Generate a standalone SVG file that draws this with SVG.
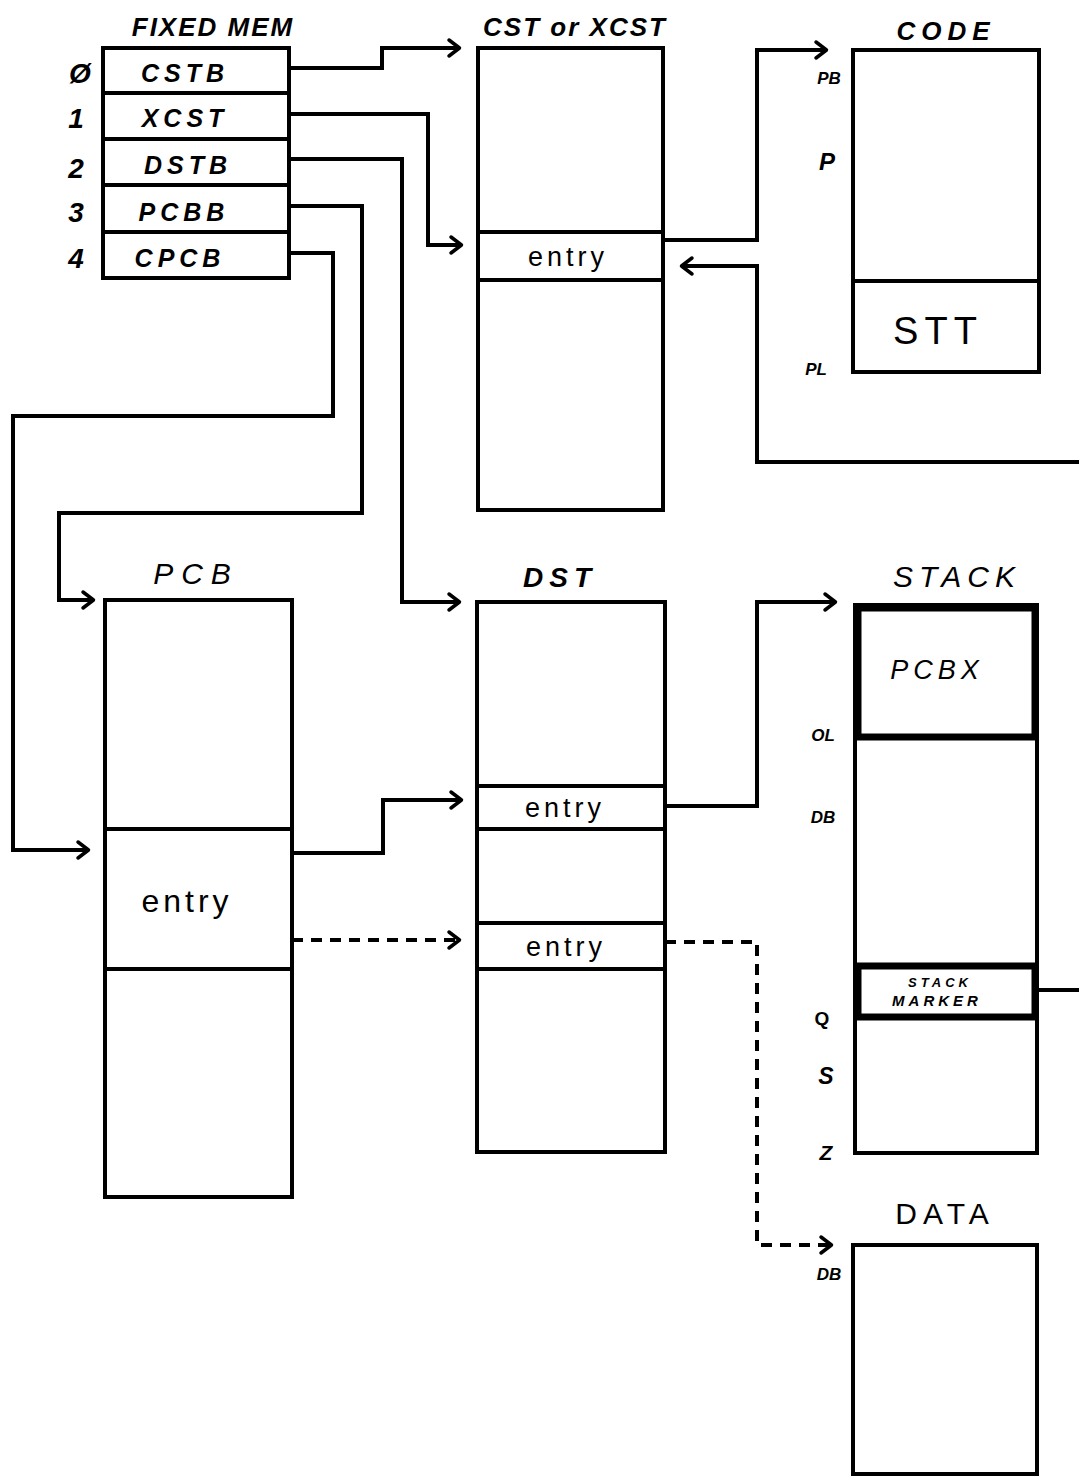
<svg xmlns="http://www.w3.org/2000/svg" width="1079" height="1478" viewBox="0 0 1079 1478">
<defs>
<marker id="ah" viewBox="0 0 14 20" refX="13" refY="10" markerWidth="14" markerHeight="20" markerUnits="userSpaceOnUse" orient="auto" overflow="visible">
<path d="M2,2 L12.5,10 L2,18" fill="none" stroke="#000" stroke-width="3.5" stroke-linecap="round" stroke-linejoin="round"/>
</marker>
<style>
.bx{fill:#fff;stroke:#000;stroke-width:4}
.div{stroke:#000;stroke-width:4}
.thick{fill:none;stroke:#000;stroke-width:7}
.ln{fill:none;stroke:#000;stroke-width:4;stroke-linejoin:miter}
.arr{marker-end:url(#ah)}
.dash{stroke-dasharray:11 8}
.t{font-family:"Liberation Sans",Arial,sans-serif;font-weight:bold;fill:#000;text-anchor:middle}
.it{font-style:italic}
.r{font-size:25px;letter-spacing:5px}
.e{font-size:27px;letter-spacing:4px;font-weight:normal}
.s{font-size:17px;font-style:italic}
.n{font-size:28px;font-style:italic}
</style>
</defs>
<rect width="1079" height="1478" fill="#fff"/>

<g id="connectors">
<path class="ln arr" d="M289,68 H382 V48 H460"/>
<path class="ln arr" d="M289,114 H428 V245 H462"/>
<path class="ln arr" d="M289,159 H402 V602 H460"/>
<path class="ln arr" d="M289,206 H362 V513 H59 V600 H94"/>
<path class="ln arr" d="M289,253 H333 V416 H13 V850 H89"/>
<path class="ln arr" d="M663,240 H757 V50 H827"/>
<path class="ln arr" d="M1079,462 H757 V266 H681"/>
<path class="ln" d="M1037,990 H1079"/>
<path class="ln arr" d="M292,853 H383 V800 H462"/>
<path class="ln arr dash" d="M292,940 H460"/>
<path class="ln arr" d="M665,806 H757 V602 H836"/>
<path class="ln arr dash" d="M665,942 H757 V1245 H832"/>
</g>

<g id="fixed-mem">
<text class="t it" x="213" y="36" style="font-size:26px;letter-spacing:2px">FIXED MEM</text>
<rect class="bx" x="103" y="48" width="186" height="230"/>
<line class="div" x1="103" y1="93" x2="289" y2="93"/>
<line class="div" x1="103" y1="139" x2="289" y2="139"/>
<line class="div" x1="103" y1="185" x2="289" y2="185"/>
<line class="div" x1="103" y1="232" x2="289" y2="232"/>
<text class="t r it" x="185" y="82">CSTB</text>
<text class="t r it" x="185" y="127">XCST</text>
<text class="t r it" x="188" y="174">DSTB</text>
<text class="t r it" x="184" y="221">PCBB</text>
<text class="t r it" x="180" y="267">CPCB</text>
<text class="t n" x="80" y="83">Ø</text>
<text class="t n" x="76" y="128">1</text>
<text class="t n" x="76" y="178">2</text>
<text class="t n" x="76" y="222">3</text>
<text class="t n" x="76" y="268">4</text>
</g>

<g id="cst">
<text class="t it" x="575" y="36" style="font-size:26px;letter-spacing:2px">CST or XCST</text>
<rect class="bx" x="478" y="48" width="185" height="462"/>
<line class="div" x1="478" y1="232" x2="663" y2="232"/>
<line class="div" x1="478" y1="280" x2="663" y2="280"/>
<text class="t e" x="568" y="266">entry</text>
</g>

<g id="code">
<text class="t" x="946" y="40" style="font-size:26px;letter-spacing:6px;font-style:italic">CODE</text>
<rect class="bx" x="853" y="50" width="186" height="322"/>
<line class="div" x1="853" y1="281" x2="1039" y2="281"/>
<text class="t" x="938" y="344" style="font-size:38px;letter-spacing:6px;font-weight:normal">STT</text>
<text class="t s" x="829" y="84">PB</text>
<text class="t" x="827" y="170" style="font-size:24px;font-style:italic">P</text>
<text class="t s" x="816" y="375">PL</text>
</g>

<g id="pcb">
<text class="t" x="196" y="584" style="font-size:30px;letter-spacing:8px;font-weight:normal;font-style:italic">PCB</text>
<rect class="bx" x="105" y="600" width="187" height="597"/>
<line class="div" x1="105" y1="829" x2="292" y2="829"/>
<line class="div" x1="105" y1="969" x2="292" y2="969"/>
<text class="t" x="187" y="912" style="font-size:32px;letter-spacing:4px;font-weight:normal">entry</text>
</g>

<g id="dst">
<text class="t" x="560" y="587" style="font-size:28px;letter-spacing:6px;font-style:italic">DST</text>
<rect class="bx" x="477" y="602" width="188" height="550"/>
<line class="div" x1="477" y1="786" x2="665" y2="786"/>
<line class="div" x1="477" y1="829" x2="665" y2="829"/>
<line class="div" x1="477" y1="923" x2="665" y2="923"/>
<line class="div" x1="477" y1="969" x2="665" y2="969"/>
<text class="t e" x="565" y="817">entry</text>
<text class="t e" x="566" y="956">entry</text>
</g>

<g id="stack">
<text class="t" x="957" y="587" style="font-size:30px;letter-spacing:6px;font-weight:normal;font-style:italic">STACK</text>
<rect class="bx" x="855" y="605" width="182" height="548"/>
<rect class="thick" x="858" y="608" width="177" height="129"/>
<text class="t" x="937" y="679" style="font-size:27px;letter-spacing:5px;font-weight:normal;font-style:italic">PCBX</text>
<rect class="thick" x="858" y="966" width="177" height="51"/>
<text class="t" x="940" y="987" style="font-size:13px;letter-spacing:4px;font-style:italic">STACK</text>
<text class="t" x="937" y="1006" style="font-size:15px;letter-spacing:4px;font-style:italic">MARKER</text>
<text class="t s" x="823" y="741">OL</text>
<text class="t s" x="823" y="823">DB</text>
<text class="t" x="822" y="1025" style="font-size:19px">Q</text>
<text class="t" x="826" y="1084" style="font-size:23px;font-style:italic">S</text>
<text class="t" x="826" y="1160" style="font-size:21px;font-style:italic">Z</text>
</g>

<g id="data">
<text class="t" x="945" y="1224" style="font-size:30px;letter-spacing:6px;font-weight:normal">DATA</text>
<rect class="bx" x="853" y="1245" width="184" height="229"/>
<text class="t s" x="829" y="1280">DB</text>
</g>
</svg>
